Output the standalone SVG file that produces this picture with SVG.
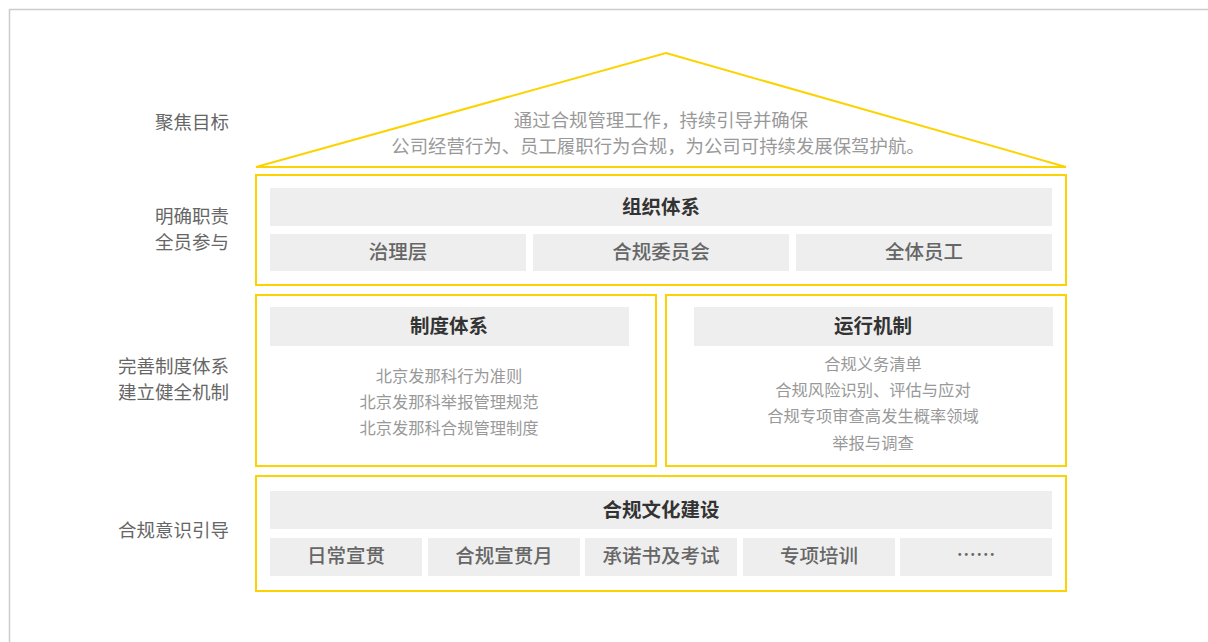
<svg xmlns="http://www.w3.org/2000/svg" width="1208" height="642" viewBox="0 0 1208 642">
<style>
text{font-family:"Noto Sans CJK SC","Noto Sans",sans-serif;}
.frame{fill:none;stroke:#cccccc;stroke-width:1.5;}
.yb{fill:#ffffff;stroke:#fcd300;stroke-width:2;}
.roof{fill:#ffffff;stroke:#fcd300;stroke-width:2;stroke-linejoin:miter;}
.g{fill:#eeeeee;}
.lbl{font-size:18.5px;fill:#666666;text-anchor:end;}
.hd{font-size:19.5px;fill:#333333;font-weight:bold;text-anchor:middle;}
.sub{font-size:19.5px;fill:#666666;font-weight:500;text-anchor:middle;}
.body{font-size:16.3px;fill:#999999;text-anchor:middle;}
.roofT{font-size:18.4px;fill:#999999;text-anchor:middle;}
</style>
<rect x="0" y="0" width="1208" height="642" fill="#ffffff"/>
<path class="frame" d="M9.5,650 V9.5 H1220"/>
<g id="labels">
<text class="lbl" x="229" y="129">聚焦目标</text>
<text class="lbl" x="229" y="223">明确职责</text>
<text class="lbl" x="229" y="249">全员参与</text>
<text class="lbl" x="229" y="373">完善制度体系</text>
<text class="lbl" x="229" y="399">建立健全机制</text>
<text class="lbl" x="229" y="537">合规意识引导</text>
</g>
<g id="roof">
<polygon class="roof" points="666,53 1066,167 256,167"/>
<text class="roofT" x="661" y="127">通过合规管理工作，持续引导并确保</text>
<text class="roofT" x="658" y="153">公司经营行为、员工履职行为合规，为公司可持续发展保驾护航。</text>
</g>
<g id="org">
<rect class="yb" x="256" y="175" width="810" height="110"/>
<rect class="g" x="270" y="188" width="782" height="38"/>
<text class="hd" x="661" y="214">组织体系</text>
<rect class="g" x="270" y="234" width="256" height="37"/>
<text class="sub" x="398" y="259">治理层</text>
<rect class="g" x="533" y="234" width="256" height="37"/>
<text class="sub" x="661" y="259">合规委员会</text>
<rect class="g" x="796" y="234" width="256" height="37"/>
<text class="sub" x="924" y="259">全体员工</text>
</g>
<g id="policy">
<rect class="yb" x="256" y="295" width="400" height="171"/>
<rect class="g" x="270" y="307" width="359" height="39"/>
<text class="hd" x="449" y="333">制度体系</text>
<text class="body" x="449" y="382">北京发那科行为准则</text>
<text class="body" x="449" y="408">北京发那科举报管理规范</text>
<text class="body" x="449" y="434">北京发那科合规管理制度</text>
</g>
<g id="mechanism">
<rect class="yb" x="666" y="295" width="400" height="171"/>
<rect class="g" x="694" y="307" width="359" height="39"/>
<text class="hd" x="873" y="333">运行机制</text>
<text class="body" x="873" y="370">合规义务清单</text>
<text class="body" x="873" y="396">合规风险识别、评估与应对</text>
<text class="body" x="873" y="422">合规专项审查高发生概率领域</text>
<text class="body" x="873" y="449">举报与调查</text>
</g>
<g id="culture">
<rect class="yb" x="256" y="476" width="810" height="115"/>
<rect class="g" x="270" y="491" width="782" height="38"/>
<text class="hd" x="661" y="517">合规文化建设</text>
<rect class="g" x="270" y="538" width="152" height="38"/>
<text class="sub" x="346" y="563">日常宣贯</text>
<rect class="g" x="428" y="538" width="152" height="38"/>
<text class="sub" x="504" y="563">合规宣贯月</text>
<rect class="g" x="585" y="538" width="152" height="38"/>
<text class="sub" x="661" y="563">承诺书及考试</text>
<rect class="g" x="743" y="538" width="152" height="38"/>
<text class="sub" x="819" y="563">专项培训</text>
<rect class="g" x="900" y="538" width="152" height="38"/>
<text class="sub" x="976" y="562">……</text>
</g>
<g id="connectors"></g>
</svg>
